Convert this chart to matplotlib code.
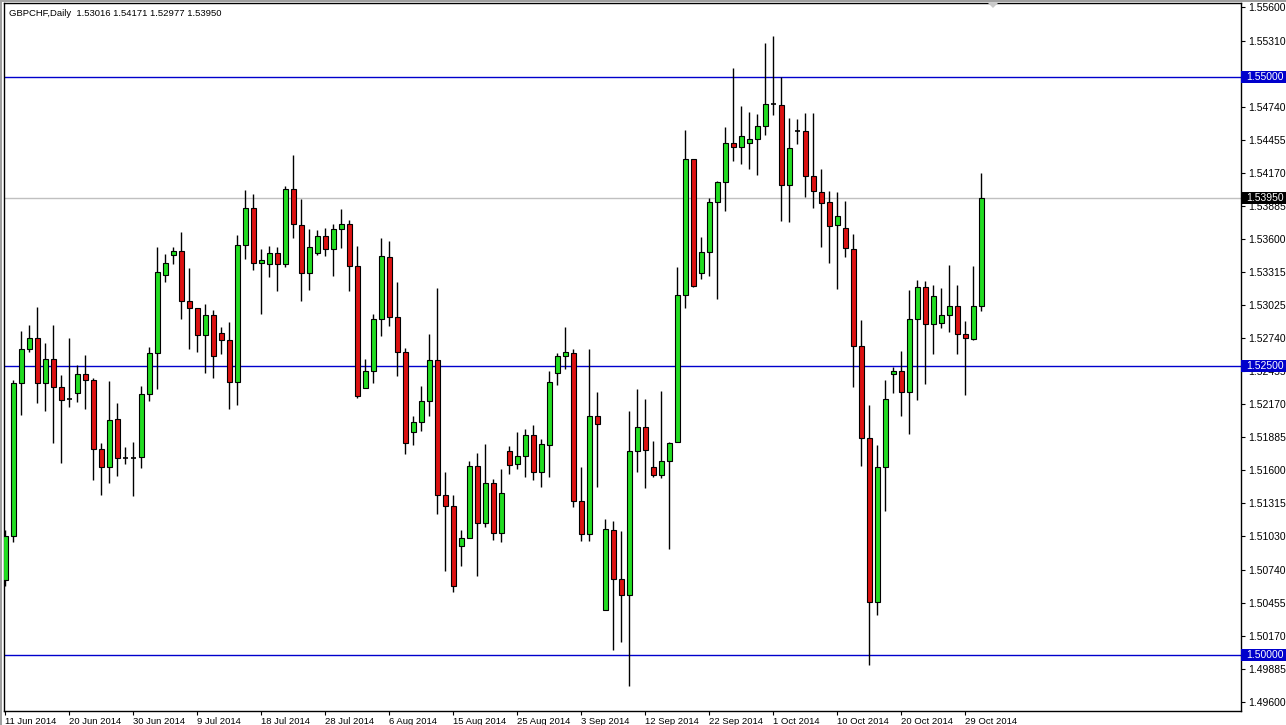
import matplotlib
matplotlib.use('Agg')
import matplotlib.pyplot as plt
from matplotlib.patches import Rectangle, Polygon

# GBPCHF daily candles, 11 Jun 2014 .. 31 Oct 2014 (sunday bars included)
opens = [1.50650, 1.51030, 1.52353, 1.52644, 1.52742, 1.52353, 1.52560, 1.52319, 1.52212, 1.52267,
         1.52431, 1.52379, 1.51780, 1.51627, 1.52042, 1.51705, 1.51708, 1.51711, 1.52258, 1.52612,
         1.53290, 1.53459, 1.53494, 1.53062, 1.53001, 1.52765, 1.52944, 1.52785, 1.52728, 1.52362,
         1.53546, 1.53865, 1.53390, 1.53378, 1.53476, 1.53378, 1.54029, 1.53718, 1.53301, 1.53476,
         1.53623, 1.53511, 1.53684, 1.53727, 1.53361, 1.52313, 1.52460, 1.52903, 1.53439, 1.52921,
         1.52624, 1.51927, 1.52013, 1.52200, 1.52549, 1.51382, 1.51287, 1.50948, 1.51017, 1.51633,
         1.51141, 1.51486, 1.51054, 1.51763, 1.51651, 1.51720, 1.51903, 1.51588, 1.51814, 1.52437,
         1.52585, 1.52610, 1.51336, 1.51053, 1.52066, 1.50393, 1.51085, 1.50660, 1.50525, 1.51770,
         1.51972, 1.51632, 1.51563, 1.51682, 1.51840, 1.53113, 1.54286, 1.53306, 1.53488, 1.53920,
         1.54093, 1.54430, 1.54395, 1.54430, 1.54464, 1.54577, 1.54761, 1.54755, 1.54064, 1.54531,
         1.54533, 1.54142, 1.54006, 1.53920, 1.53718, 1.53695, 1.53514, 1.52673, 1.51878, 1.50461,
         1.51627, 1.52428, 1.52457, 1.52275, 1.52903, 1.53183, 1.52863, 1.52872, 1.52944, 1.53018,
         1.52776, 1.52730, 1.53016]
highs = [1.51080, 1.52382, 1.52802, 1.52851, 1.53010, 1.52702, 1.52857, 1.52425, 1.52742, 1.52512,
         1.52598, 1.52399, 1.51838, 1.52373, 1.52180, 1.51800, 1.51843, 1.52324, 1.52664, 1.53529,
         1.53470, 1.53528, 1.53658, 1.53350, 1.53001, 1.53039, 1.52981, 1.52837, 1.52880, 1.53629,
         1.54024, 1.53989, 1.53514, 1.53537, 1.53528, 1.54055, 1.54320, 1.53940, 1.53681, 1.53672,
         1.53692, 1.53724, 1.53859, 1.53764, 1.53534, 1.52560, 1.52949, 1.53603, 1.53580, 1.53223,
         1.52656, 1.52071, 1.52330, 1.52779, 1.53174, 1.51581, 1.51385, 1.51083, 1.51682, 1.51748,
         1.51826, 1.51524, 1.51610, 1.51812, 1.51928, 1.51956, 1.51987, 1.51871, 1.52459, 1.52610,
         1.52840, 1.52651, 1.51626, 1.52651, 1.52274, 1.51179, 1.51164, 1.51079, 1.52113, 1.52302,
         1.52217, 1.51849, 1.52286, 1.51846, 1.53358, 1.54539, 1.54286, 1.53617, 1.53955, 1.54101,
         1.54568, 1.55072, 1.54749, 1.54692, 1.54675, 1.55288, 1.55354, 1.55000, 1.54640, 1.54634,
         1.54683, 1.54683, 1.54199, 1.54015, 1.54001, 1.53926, 1.53643, 1.52900, 1.52160, 1.51815,
         1.52376, 1.52491, 1.52630, 1.53154, 1.53240, 1.53234, 1.53197, 1.53174, 1.53370, 1.53203,
         1.52889, 1.53364, 1.54171]
lows = [1.50600, 1.50980, 1.52074, 1.52621, 1.52180, 1.52108, 1.51832, 1.51662, 1.52146, 1.52189,
        1.52126, 1.51515, 1.51382, 1.51492, 1.51547, 1.51650, 1.51377, 1.51619, 1.52195, 1.52298,
        1.53230, 1.53378, 1.52903, 1.52650, 1.52621, 1.52440, 1.52399, 1.52607, 1.52126, 1.52160,
        1.53427, 1.53327, 1.52947, 1.53266, 1.53145, 1.53355, 1.53606, 1.53059, 1.53154, 1.53460,
        1.53448, 1.53275, 1.53523, 1.53151, 1.52226, 1.52307, 1.52350, 1.52762, 1.52849, 1.52416,
        1.51740, 1.51820, 1.51941, 1.52071, 1.51221, 1.50732, 1.50550, 1.50775, 1.51011, 1.50688,
        1.51106, 1.51000, 1.50982, 1.51567, 1.51613, 1.51541, 1.51519, 1.51456, 1.51541, 1.52336,
        1.52475, 1.51280, 1.50991, 1.50991, 1.51456, 1.50393, 1.50047, 1.50119, 1.49733, 1.51582,
        1.51447, 1.51541, 1.51531, 1.50918, 1.51840, 1.52998, 1.53185, 1.53252, 1.53280, 1.53079,
        1.53839, 1.54271, 1.54245, 1.54199, 1.54150, 1.54496, 1.54669, 1.53756, 1.53741, 1.54415,
        1.53957, 1.53862, 1.53525, 1.53387, 1.53165, 1.53439, 1.52319, 1.51633, 1.49914, 1.50346,
        1.51247, 1.52270, 1.52068, 1.51915, 1.52203, 1.52347, 1.52607, 1.52828, 1.52794, 1.52607,
        1.52252, 1.52722, 1.52977]
closes = [1.51030, 1.52353, 1.52650, 1.52742, 1.52353, 1.52560, 1.52319, 1.52206, 1.52212, 1.52431,
          1.52379, 1.51780, 1.51627, 1.52033, 1.51702, 1.51705, 1.51708, 1.52258, 1.52612, 1.53313,
          1.53390, 1.53494, 1.53062, 1.53001, 1.52765, 1.52944, 1.52584, 1.52722, 1.52362, 1.53546,
          1.53865, 1.53390, 1.53416, 1.53476, 1.53378, 1.54029, 1.53724, 1.53301, 1.53528, 1.53623,
          1.53511, 1.53684, 1.53727, 1.53361, 1.52244, 1.52460, 1.52903, 1.53448, 1.52921, 1.52624,
          1.51832, 1.52013, 1.52195, 1.52549, 1.51382, 1.51287, 1.50596, 1.51017, 1.51633, 1.51141,
          1.51486, 1.51054, 1.51400, 1.51647, 1.51720, 1.51903, 1.51588, 1.51824, 1.52365, 1.52585,
          1.52623, 1.51336, 1.51053, 1.52066, 1.51997, 1.51094, 1.50660, 1.50525, 1.51770, 1.51972,
          1.51777, 1.51563, 1.51682, 1.51833, 1.53113, 1.54286, 1.53191, 1.53488, 1.53920, 1.54093,
          1.54430, 1.54395, 1.54490, 1.54464, 1.54577, 1.54767, 1.54761, 1.54064, 1.54381, 1.54531,
          1.54142, 1.54012, 1.53911, 1.53710, 1.53799, 1.53517, 1.52673, 1.51878, 1.50461, 1.51627,
          1.52218, 1.52457, 1.52275, 1.52903, 1.53183, 1.52863, 1.53105, 1.52944, 1.53018, 1.52776,
          1.52742, 1.53018, 1.53950]

date_labels = ['11 Jun 2014', '20 Jun 2014', '30 Jun 2014', '9 Jul 2014', '18 Jul 2014', '28 Jul 2014',
               '6 Aug 2014', '15 Aug 2014', '25 Aug 2014', '3 Sep 2014', '12 Sep 2014', '22 Sep 2014',
               '1 Oct 2014', '10 Oct 2014', '20 Oct 2014', '29 Oct 2014']
date_bars = [0, 8, 16, 24, 32, 40, 48, 56, 64, 72, 80, 88, 96, 104, 112, 120]

price_ticks = [1.55600, 1.55310, 1.54740, 1.54455, 1.54170, 1.53885, 1.53600, 1.53315, 1.53025,
               1.52740, 1.52455, 1.52170, 1.51885, 1.51600, 1.51315, 1.51030, 1.50740, 1.50455,
               1.50170, 1.49885, 1.49600]
hlevels = [1.55000, 1.52500, 1.50000]
last_price = 1.53950
title = 'GBPCHF,Daily  1.53016 1.54171 1.52977 1.53950'

W, H = 1286, 725
FONT = 'Liberation Sans'
green = '#22DD22'
red = '#DD1111'
blue = '#0000CC'

fig = plt.figure(figsize=(W / 100, H / 100), dpi=100)
fig.patch.set_facecolor('white')

top_px, bot_px, left_px, right_px = 3, 711, 4, 1241
ax = fig.add_axes([left_px / W, 1 - bot_px / H, (right_px - left_px) / W, (bot_px - top_px) / H])
ppu = 11573.0  # pixels per price unit
ymax = 1.556 + (7.3 - top_px) / ppu
ymin = 1.556 - (bot_px - 7.3) / ppu
ax.set_ylim(ymin, ymax)
ax.set_xlim((left_px - 5.3) / 8, (right_px - 5.3) / 8)

n = len(opens)
xs = list(range(n))

# wicks
ax.vlines(xs, lows, highs, color='black', linewidth=1, zorder=3)

# bodies
for i in xs:
    o, c = opens[i], closes[i]
    if abs(c - o) < 0.00004:
        ax.hlines(o, i - 0.33, i + 0.33, color='black', linewidth=1.2, zorder=4)
    else:
        col = green if c > o else red
        ax.bar(i, abs(c - o), bottom=min(o, c), width=0.62, color=col,
               edgecolor='black', linewidth=0.8, zorder=4)

# horizontal levels
for lv in hlevels:
    ax.axhline(lv, color=blue, linewidth=1, zorder=2)
ax.axhline(last_price, color='#C0C0C0', linewidth=1, zorder=2)

for s in ax.spines.values():
    s.set_color('black')
    s.set_linewidth(1)

ax.yaxis.tick_right()
ax.set_yticks(price_ticks)
ax.set_yticklabels(['%.5f' % p for p in price_ticks])
ax.tick_params(axis='y', direction='out', length=3, pad=2, labelsize=7.5, width=0.8)
ax.set_xticks(date_bars)
ax.set_xticklabels(date_labels)
ax.tick_params(axis='x', direction='out', length=3, pad=1, labelsize=6.8, width=0.8)
for lab in ax.get_xticklabels() + ax.get_yticklabels():
    lab.set_fontfamily(FONT)
for lab in ax.get_xticklabels():
    lab.set_horizontalalignment('left')


def ypx(p):
    return top_px + (ymax - p) * ppu


# boxed price labels on the right axis
for p, col in [(1.55000, blue), (1.52500, blue), (1.50000, blue), (last_price, 'black')]:
    yc = ypx(p)
    fig.add_artist(Rectangle((right_px / W, 1 - (yc + 6) / H), (W - right_px) / W, 12 / H,
                             transform=fig.transFigure, facecolor=col, edgecolor='none', zorder=10))
    fig.text(1246 / W, 1 - yc / H, '%.5f' % p, color='white', fontsize=7.5, family=FONT,
             va='center', ha='left', zorder=11)

# title
fig.text(9 / W, 1 - 13 / H, title, fontsize=6.8, family=FONT, va='center', ha='left', zorder=11)

# window frame
fig.add_artist(Rectangle((0, 1 - 2 / H), 1, 2 / H, transform=fig.transFigure,
                         facecolor='#A0A0A0', edgecolor='none', zorder=12))
fig.add_artist(Rectangle((0, 0), 2 / W, 1, transform=fig.transFigure,
                         facecolor='#A0A0A0', edgecolor='none', zorder=12))
# shift marker
fig.add_artist(Polygon([(988 / W, 1 - 3 / H), (998 / W, 1 - 3 / H), (993 / W, 1 - 8 / H)],
                       closed=True, transform=fig.transFigure, facecolor='#C8C8C8',
                       edgecolor='none', zorder=12))

fig.savefig('out.png', dpi=100)
